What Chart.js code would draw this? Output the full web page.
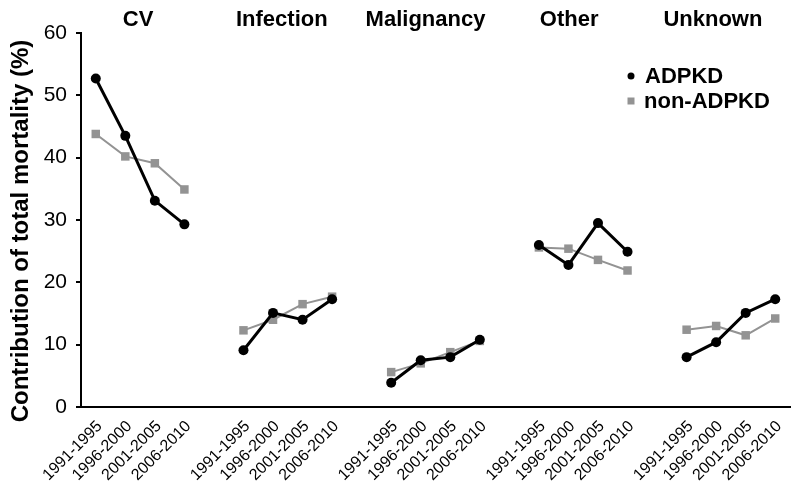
<!DOCTYPE html>
<html>
<head>
<meta charset="utf-8">
<script src="https://cdn.jsdelivr.net/npm/chart.js@4"></script>
<style>
  html, body { margin: 0; padding: 0; background: #ffffff; }
  #wrap { width: 800px; height: 492px; }
</style>
</head>
<body>
<div id="wrap"><canvas id="mortalityChart"></canvas></div>
<script>
// Causes of death, periods and values
const groups = ['CV', 'Infection', 'Malignancy', 'Other', 'Unknown'];
const periods = ['1991-1995', '1996-2000', '2001-2005', '2006-2010'];

const adpkd = [
    [52.7, 43.5, 33.1, 29.3],
    [9.1, 15.1, 14.0, 17.3],
    [3.9, 7.5, 8.0, 10.8],
    [26.0, 22.8, 29.5, 24.9],
    [8.0, 10.4, 15.1, 17.3]
];
const nonAdpkd = [
    [43.8, 40.2, 39.1, 34.9],
    [12.3, 14.0, 16.5, 17.7],
    [5.6, 7.0, 8.8, 10.6],
    [25.6, 25.4, 23.6, 21.9],
    [12.4, 13.0, 11.5, 14.2]
];

const yTitle = 'Contribution of total mortality (%)';

const GRAY = '#939393';
const FONT = "'Liberation Sans', Arial, Helvetica, sans-serif";

Chart.defaults.font.family = FONT;
Chart.defaults.color = '#000000';

// one empty slot between groups so the lines break
const labels = [];
const adpkdData = [];
const nonData = [];
groups.forEach((g, i) => {
    if (i > 0) {
        labels.push('');
        adpkdData.push(null);
        nonData.push(null);
    }
    periods.forEach((p, j) => {
        labels.push(p);
        adpkdData.push(adpkd[i][j]);
        nonData.push(nonAdpkd[i][j]);
    });
});

// group titles above the plot + y axis title
const groupTitles = {
    id: 'groupTitles',
    afterDraw(chart) {
        const ctx = chart.ctx;
        const x = chart.scales.x;
        const area = chart.chartArea;
        ctx.save();
        ctx.font = "bold 22px " + FONT;
        ctx.fillStyle = '#000000';
        ctx.textAlign = 'center';
        ctx.textBaseline = 'middle';
        groups.forEach((g, i) => {
            const start = i * 5;
            const cx = (x.getPixelForValue(start + 1) + x.getPixelForValue(start + 2)) / 2 - i * 4 - 2;
            ctx.fillText(g, cx, 20);
        });

        // rotated axis title, sits a little below the plot centre like the original
        ctx.translate(21, (area.top + area.bottom) / 2 + 11);
        ctx.rotate(-Math.PI / 2);
        ctx.font = "bold 24px " + FONT;
        ctx.fillText(yTitle, 0, 0);
        ctx.restore();
    }
};

// legend in upper right of the plot
const customLegend = {
    id: 'customLegend',
    afterDraw(chart) {
        const ctx = chart.ctx;
        const area = chart.chartArea;
        const lx = area.right - 159;
        const ly = area.top + 43;
        ctx.save();
        ctx.font = "bold 22px " + FONT;
        ctx.textBaseline = 'middle';
        ctx.textAlign = 'left';
        ctx.fillStyle = '#000000';
        ctx.beginPath();
        ctx.arc(lx, ly, 3.5, 0, Math.PI * 2);
        ctx.fill();
        ctx.fillText('ADPKD', lx + 14, ly + 1);
        ctx.fillStyle = GRAY;
        ctx.fillRect(lx - 3.5, ly + 25 - 3.5, 7, 7);
        ctx.fillStyle = '#000000';
        ctx.fillText('non-ADPKD', lx + 13, ly + 26);
        ctx.restore();
    }
};

new Chart(document.getElementById('mortalityChart'), {
    type: 'line',
    data: {
        labels: labels,
        datasets: [
            {
                label: 'ADPKD',
                data: adpkdData,
                borderColor: '#000000',
                backgroundColor: '#000000',
                borderWidth: 3,
                tension: 0,
                spanGaps: false,
                pointStyle: 'circle',
                pointRadius: 5,
                pointBorderWidth: 0
            },
            {
                label: 'non-ADPKD',
                data: nonData,
                borderColor: GRAY,
                backgroundColor: GRAY,
                borderWidth: 2,
                tension: 0,
                spanGaps: false,
                pointStyle: 'rect',
                pointRadius: 6,
                pointBorderWidth: 0
            }
        ]
    },
    options: {
        responsive: true,
        maintainAspectRatio: false,
        animation: false,
        layout: {
            padding: { top: 33, right: 10, left: 0, bottom: 0 }
        },
        plugins: {
            legend: { display: false },
            tooltip: { enabled: false }
        },
        scales: {
            x: {
                type: 'category',
                offset: true,
                grid: { drawOnChartArea: false, drawTicks: false },
                border: { color: '#000000', width: 2 },
                ticks: {
                    autoSkip: false,
                    minRotation: 45,
                    maxRotation: 45,
                    padding: 10,
                    labelOffset: 4,
                    color: '#000000',
                    font: { size: 16 }
                },
                afterFit: function(scale) {
                    scale.height = 85;
                }
            },
            y: {
                min: 0,
                max: 60,
                grid: {
                    drawOnChartArea: false,
                    drawTicks: true,
                    tickLength: 5,
                    color: '#000000',
                    lineWidth: 2
                },
                border: { color: '#000000', width: 2 },
                ticks: {
                    stepSize: 10,
                    padding: 9,
                    color: '#000000',
                    font: { size: 21 }
                },
                afterFit: function(scale) {
                    scale.width = 81;
                }
            }
        }
    },
    plugins: [groupTitles, customLegend]
});
</script>
</body>
</html>
